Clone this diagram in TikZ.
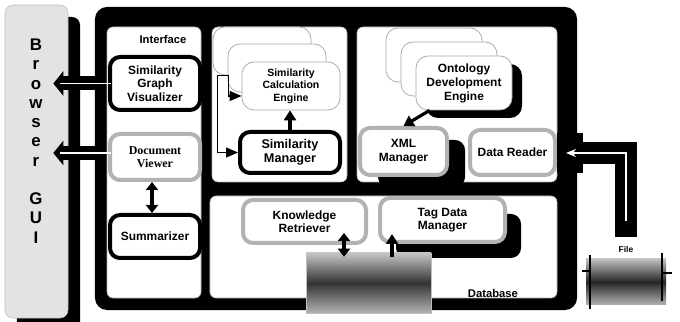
\documentclass[tikz,border=0pt]{standalone}
\usepackage{fontspec}
\setmainfont{Liberation Sans}
\newfontfamily\viewerfont{Liberation Serif}
\usetikzlibrary{positioning,shadows,arrows.meta}

\begin{document}
\begin{tikzpicture}[
    x=0.25mm, y=-0.25mm,
    % define styles
    panel/.style={
        fill=white,
        draw=gray!60,
        rounded corners=1.5mm
    },
    mod/.style={
        draw=gray!60,
        fill=white,
        line width=1mm,
        rounded corners=2.5mm,
        align=center,
        font=\fontsize{8.5}{9.5}\selectfont\bfseries
    },
    dark/.style={
        mod,
        draw=black
    },
    stack/.style={
        draw=gray!70,
        fill=white,
        line width=0.5pt,
        rounded corners=3mm,
        minimum width=24.5mm,
        minimum height=12mm
    },
    blackshadow/.style 2 args={
        drop shadow={shadow xshift=#1, shadow yshift=-#2, fill=black, opacity=1}
    },
    arr/.style={
        -{Triangle[width=3mm,length=2.5mm]},
        line width=0.8mm
    },
    darr/.style={
        {Triangle[width=3mm,length=2mm]}-{Triangle[width=3mm,length=2mm]},
        line width=0.8mm
    },
    link/.style={
        -{Triangle[width=2.5mm,length=3mm]},
        line width=0.35mm
    },
    pipe/.style={
        {Triangle[width=6mm,length=2.5mm]}-{Triangle[width=6mm,length=2.5mm]},
        line width=3.5mm
    }
]
\useasboundingbox (0,0) rectangle (680,322);

% Browser on the left
\node[fill=gray!22, draw=gray!50, rounded corners=2mm, minimum width=15.75mm,
      minimum height=78.25mm, blackshadow={3mm}{3mm}] (browser) at (36.5,161.5) {};
\node[font=\fontsize{12}{13.7}\selectfont\bfseries, align=center] (gui) at (36,141)
    {B\\r\\o\\w\\s\\e\\r\\[13.7pt]G\\U\\I};

% Black frame and the white panels in it
\node[fill=black, rounded corners=3mm, minimum width=120.5mm, minimum height=75.75mm] (frame) at (336,158.5) {};
\node[panel, minimum width=23.5mm, minimum height=67.75mm] (iface) at (154,162.5) {};
\node[panel, minimum width=33.75mm, minimum height=38.75mm] (simp) at (279.5,104.5) {};
\node[panel, minimum width=50mm, minimum height=38.75mm] (ontp) at (457,104.5) {};
\node[panel, minimum width=86.75mm, minimum height=25.5mm] (datp) at (383.5,247) {};

% Interface panel
\node[font=\fontsize{8}{9}\selectfont\bfseries] (iflabel) at (163,39) {Interface};
\node[dark, minimum width=22.5mm, minimum height=13.25mm] (vis) at (155,83.5) {Similarity\\Graph\\Visualizer};
\node[mod, minimum width=22.5mm, minimum height=11.5mm,
      font=\viewerfont\fontsize{8.5}{9.5}\selectfont\bfseries] (docv) at (155,157) {Document\\Viewer};
\node[dark, minimum width=22.5mm, minimum height=10.75mm] (summ) at (155,236.5) {Summarizer};
\draw[darr] ([xshift=-0.75mm]docv.south) -- ([xshift=-0.75mm]summ.north);

% Similarity engines and manager
\node[stack] (sceback) at (262,51) {};
\node[stack] (scemid) at ([shift={(15,17)}]sceback) {};
\node[stack, align=center, font=\fontsize{7.5}{9}\selectfont\bfseries] (sce) at ([shift={(14,18)}]scemid)
    {Similarity\\Calculation\\Engine};
\node[dark, minimum width=25mm, minimum height=10.25mm,
      font=\fontsize{9}{10}\selectfont\bfseries] (simm) at (290,152.5) {Similarity\\Manager};
\draw[arr] (simm.north) -- (simm.north |- sce.south);
\draw[link] ([xshift=1.25mm]sceback.south west) |- (simm.west);
\draw[link] ([xshift=1.25mm]sceback.south west) -- ++(11,0) |- ([yshift=-2.5mm]sce.west);

% Ontology engines, XML manager and data reader
\node[stack, minimum width=24mm, minimum height=13.5mm] (ontback) at (434,55) {};
\node[stack, minimum width=24mm, minimum height=13.5mm] (ontmid) at ([shift={(15,14)}]ontback) {};
\node[stack, minimum width=24mm, minimum height=13.5mm, align=center, blackshadow={2.5mm}{2mm},
      font=\fontsize{8.5}{10}\selectfont\bfseries] (onto) at ([shift={(15,14)}]ontmid)
    {Ontology\\Development\\Engine};
\node[mod, minimum width=21.75mm, minimum height=11.75mm, blackshadow={4.5mm}{3mm}] (xml) at (403.5,151.5) {XML\\Manager};
\node[mod, minimum width=21.25mm, minimum height=11.25mm] (dr) at (512.5,152.5) {Data Reader};
\draw[arr] ([xshift=3.5mm]onto.south west) -- (xml.north);

% Retriever, tag manager and database
\node[mod, minimum width=30.75mm, minimum height=10.75mm] (kr) at (304.5,221.5) {Knowledge\\Retriever};
\node[mod, minimum width=31.25mm, minimum height=11mm, blackshadow={4mm}{4mm}] (tdm) at (442.5,220) {Tag Data\\Manager};
\node[top color=gray!45, bottom color=gray!60, middle color=black!80, draw=gray!50,
      minimum width=31.25mm, minimum height=15mm] (db) at (368.5,283) {};
\node[font=\fontsize{8}{9}\selectfont\bfseries] (dblabel) at (493,293) {Database};
\coordinate (krin) at ([xshift=-6mm,yshift=3mm]kr.south east);
\coordinate (tagin) at ([xshift=3.5mm,yshift=2.5mm]tdm.south west);
\draw[darr] ([yshift=-1mm]db.north -| krin) -- (krin);
\draw[arr] ([yshift=-1mm]db.north -| tagin) -- (tagin);

% Browser arrows
\draw[pipe] ([xshift=-3.75mm]browser.east |- vis.west) -- (iface.west |- vis.west);
\draw[white, line width=0.3mm] ([xshift=-2mm]browser.east |- vis.west) -- ([xshift=1mm]iface.west |- vis.west);
\draw[pipe] ([xshift=-3.75mm,yshift=1mm]browser.east |- docv.west) -- ([yshift=1mm]iface.west |- docv.west);
\draw[white, line width=0.3mm] ([xshift=-2mm,yshift=1mm]browser.east |- docv.west) -- ([xshift=1mm,yshift=1mm]iface.west |- docv.west);

% File and its pipe
\node[top color=gray!50, bottom color=gray!60, middle color=black!85,
      minimum width=20mm, minimum height=11.5mm] (file) at (626,282) {};
\node[font=\fontsize{6}{7}\selectfont\bfseries, above=0.3mm of file] (filelbl) {File};
\node[fill=black, minimum width=6.5mm, minimum height=10mm] (port) at (570,153) {};
\draw[line width=5.5mm] (port.center) -| ([yshift=1mm]filelbl.north);
\draw[white, line width=0.35mm, {Stealth[length=2.5mm,width=2mm]}-] ([xshift=-1mm]port.center) -| ([yshift=5mm]filelbl.north);
\draw[line width=0.5mm] ([xshift=1mm,yshift=1mm]file.north west) -- ([xshift=1mm,yshift=-1mm]file.south west);
\draw[line width=0.5mm] ([xshift=-1mm,yshift=1.5mm]file.north east) -- ([xshift=-1mm,yshift=1mm]file.south east);
\draw[line width=0.5mm] ([xshift=1mm,yshift=-3mm]file.north west) -- ++(-8,0);
\draw[line width=0.5mm] ([xshift=-1mm,yshift=-3.5mm]file.north east) -- ++(10,0);
\end{tikzpicture}
\end{document}
